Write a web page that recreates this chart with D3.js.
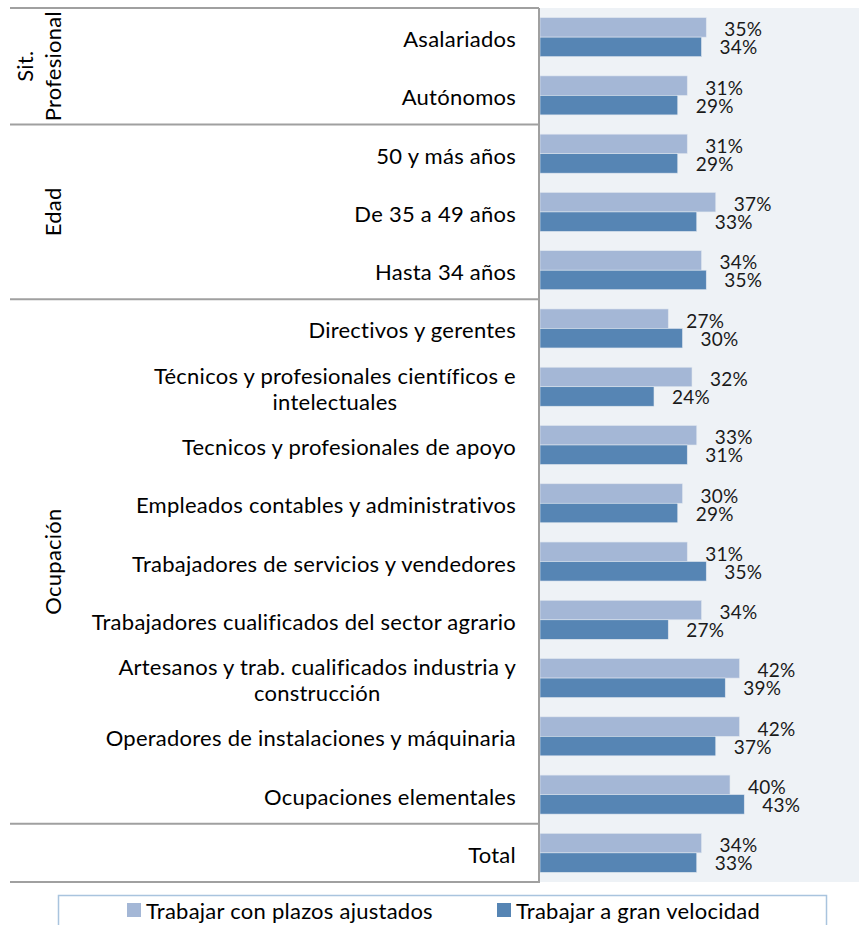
<!DOCTYPE html>
<html>
<head>
<meta charset="utf-8">
<script src="https://cdn.jsdelivr.net/npm/d3@7"></script>
<style>
  body { margin: 0; background: #fff; }
  svg { display: block; font-family: Lato, "Open Sans", sans-serif; }
</style>
</head>
<body>
<svg id="chart" width="859" height="925"></svg>
<script>
// categories, top to bottom
const categories = [
  "Asalariados",
  "Autónomos",
  "50 y más años",
  "De 35 a 49 años",
  "Hasta 34 años",
  "Directivos y gerentes",
  "Técnicos y profesionales científicos e|intelectuales",
  "Tecnicos y profesionales de apoyo",
  "Empleados contables y administrativos",
  "Trabajadores de servicios y vendedores",
  "Trabajadores cualificados del sector agrario",
  "Artesanos y trab. cualificados industria y|construcción",
  "Operadores de instalaciones y máquinaria",
  "Ocupaciones elementales",
  "Total"
];
const plazos = [35, 31, 31, 37, 34, 27, 32, 33, 30, 31, 34, 42, 42, 40, 34];
const velocidad = [34, 29, 29, 33, 35, 30, 24, 31, 29, 35, 27, 39, 37, 43, 33];
const seriesNames = ["Trabajar con plazos ajustados", "Trabajar a gran velocidad"];
// groups: label lines, first and last category index
const groups = [
  { lines: ["Sit.", "Profesional"], from: 0, to: 1 },
  { lines: ["Edad"], from: 2, to: 4 },
  { lines: ["Ocupación"], from: 5, to: 13 },
  { lines: [], from: 14, to: 14 }
];

const colors = ["#a4b7d6", "#5685b4"];
const plotTop = 8, plotBottom = 882, plotLeft = 540, plotRight = 859;
const labelSize = 22, valueSize = 19, spacing = 0.25;

const svg = d3.select("#chart");

const y = d3.scaleBand()
  .domain(d3.range(categories.length))
  .range([plotTop, plotBottom]);

const x = d3.scaleLinear()
  .domain([0, 67])
  .range([plotLeft, plotLeft + 67 * 4.75]);

// plot background
svg.append("rect")
  .attr("x", plotLeft).attr("y", plotTop)
  .attr("width", plotRight - plotLeft).attr("height", plotBottom - plotTop)
  .attr("fill", "#eef2f6");

// bars
const barH = 19.5;
const sub = d3.scaleBand().domain([0, 1]).range([0, barH * 2]);
const offset = (y.bandwidth() - barH * 2) / 2;

[plazos, velocidad].forEach((vals, s) => {
  svg.append("g").selectAll("rect")
    .data(vals)
    .join("rect")
    .attr("x", x(0))
    .attr("y", (d, i) => y(i) + offset + sub(s))
    .attr("width", d => x(d) - x(0))
    .attr("height", sub.bandwidth())
    .attr("fill", colors[s])
    .attr("stroke", "#dfe6ef")
    .attr("stroke-width", 0.6);

  svg.append("g").selectAll("text")
    .data(vals)
    .join("text")
    .attr("x", d => x(d) + 18)
    .attr("y", (d, i) => y(i) + offset + sub(s) + sub.bandwidth() / 2 + (s ? 7.5 : 9))
    .attr("font-size", valueSize)
    .attr("letter-spacing", spacing)
    .attr("fill", "#1a1a1a")
    .text(d => d + "%");
});

// category labels
const labels = svg.append("g")
  .attr("font-size", labelSize)
  .attr("letter-spacing", spacing);
categories.forEach((c, i) => {
  const lines = c.split("|");
  const cy = y(i) + y.bandwidth() / 2;
  if (lines.length === 1) {
    labels.append("text")
      .attr("x", 516).attr("y", cy + 10)
      .attr("text-anchor", "end")
      .text(c);
  } else {
    const t1 = labels.append("text")
      .attr("x", 516).attr("y", cy - 3)
      .attr("text-anchor", "end")
      .text(lines[0]);
    const w = t1.node().getComputedTextLength();
    labels.append("text")
      .attr("x", 516 - w / 2).attr("y", cy + 23)
      .attr("text-anchor", "middle")
      .text(lines[1]);
  }
});

// group separators and labels
const sepColor = "#a0a0a0";
const seps = [plotTop].concat(groups.map(g => y(g.to) + y.bandwidth()));
svg.append("g").selectAll("line")
  .data(seps)
  .join("line")
  .attr("x1", 10).attr("x2", plotLeft - 1)
  .attr("y1", d => d).attr("y2", d => d)
  .attr("stroke", sepColor).attr("stroke-width", 2);

svg.append("line")
  .attr("x1", plotLeft - 1).attr("x2", plotLeft - 1)
  .attr("y1", plotTop).attr("y2", plotBottom + 1)
  .attr("stroke", sepColor).attr("stroke-width", 2);

groups.forEach(g => {
  const cy = (y(g.from) + y(g.to) + y.bandwidth()) / 2;
  const n = g.lines.length;
  g.lines.forEach((l, k) => {
    const bx = 61 - (n - 1 - k) * 28;
    svg.append("text")
      .attr("transform", `translate(${bx},${cy}) rotate(-90)`)
      .attr("text-anchor", "middle")
      .attr("font-size", labelSize)
      .attr("letter-spacing", spacing)
      .text(l);
  });
});

// legend
const legend = svg.append("g");
legend.append("rect")
  .attr("x", 58.5).attr("y", 895.5)
  .attr("width", 768).attr("height", 40)
  .attr("fill", "#fff")
  .attr("stroke", "#a9c4de").attr("stroke-width", 1.5);
const legX = [127, 497];
seriesNames.forEach((n, s) => {
  legend.append("rect")
    .attr("x", legX[s]).attr("y", 903)
    .attr("width", 14).attr("height", 14)
    .attr("fill", colors[s]);
  legend.append("text")
    .attr("x", legX[s] + 19).attr("y", 919)
    .attr("font-size", labelSize)
    .attr("letter-spacing", spacing)
    .text(n);
});
</script>
</body>
</html>
